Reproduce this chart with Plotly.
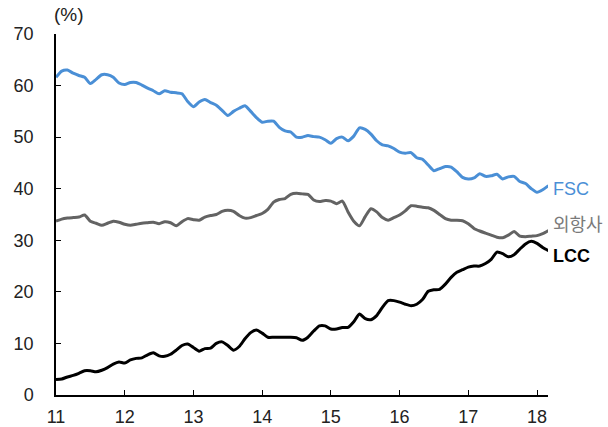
import plotly.graph_objects as go

# monthly data, Jan 2011 .. Mar 2018
fsc = [61.6, 62.8, 63.0, 62.4, 61.95, 61.6, 60.4, 61.2, 62.1, 62.1, 61.6, 60.5,
       60.2, 60.6, 60.6, 60.1, 59.5, 59.0, 58.4, 59.0, 58.7, 58.6, 58.4, 56.9,
       55.9, 56.8, 57.3, 56.7, 56.2, 55.2, 54.2, 55.0, 55.6, 56.1, 55.0, 53.8,
       52.9, 53.1, 53.1, 51.9, 51.2, 51.0, 50.0, 50.0, 50.3, 50.1, 50.0, 49.5,
       48.8, 49.7, 50.0, 49.3, 50.2, 51.8, 51.5, 50.6, 49.3, 48.5, 48.3, 47.8,
       47.1, 46.9, 47.0, 46.0, 45.7, 44.6, 43.5, 43.9, 44.3, 44.2, 43.3, 42.2,
       41.9, 42.1, 42.9, 42.4, 42.5, 42.8, 41.9, 42.3, 42.4, 41.4, 41.0, 40.0,
       39.3, 39.8, 40.6]
foreign = [33.7, 34.1, 34.3, 34.4, 34.5, 34.9, 33.7, 33.3, 32.9, 33.3, 33.7, 33.5,
           33.1, 32.9, 33.1, 33.3, 33.4, 33.5, 33.2, 33.6, 33.4, 32.8, 33.6, 34.2,
           34.0, 33.9, 34.5, 34.8, 35.0, 35.6, 35.8, 35.6, 34.8, 34.3, 34.4, 34.8,
           35.2, 36.0, 37.4, 37.9, 38.1, 38.9, 39.1, 39.0, 38.9, 37.8, 37.5, 37.7,
           37.6, 37.1, 37.6, 35.5, 33.7, 32.8, 34.6, 36.1, 35.5, 34.4, 33.9, 34.4,
           34.9, 35.7, 36.7, 36.6, 36.4, 36.3, 35.8, 35.0, 34.2, 33.9, 33.9, 33.8,
           33.2, 32.3, 31.8, 31.4, 31.0, 30.6, 30.5, 31.0, 31.7, 30.8, 30.7, 30.8,
           30.9, 31.3, 31.9]
lcc = [3.0, 3.1, 3.5, 3.8, 4.2, 4.7, 4.7, 4.5, 4.8, 5.3, 6.0, 6.4,
       6.2, 6.8, 7.1, 7.2, 7.8, 8.2, 7.6, 7.5, 7.9, 8.7, 9.6, 9.9,
       9.2, 8.5, 9.0, 9.1, 10.0, 10.3, 9.6, 8.7, 9.4, 10.9, 12.1, 12.6,
       12.0, 11.2, 11.2, 11.2, 11.2, 11.2, 11.1, 10.6, 11.2, 12.4, 13.4, 13.4,
       12.8, 12.8, 13.1, 13.1, 14.2, 15.7, 14.8, 14.6, 15.4, 17.0, 18.3, 18.3,
       18.0, 17.6, 17.3, 17.6, 18.5, 20.1, 20.4, 20.5, 21.5, 22.8, 23.8, 24.3,
       24.8, 25.0, 25.0, 25.5, 26.3, 27.7, 27.4, 26.8, 27.2, 28.3, 29.3, 29.8,
       29.4, 28.6, 28.0]
x = [11 + i / 12 for i in range(len(fsc))]

year_ticks = [11, 12, 13, 14, 15, 16, 17, 18]
y_ticks = [0, 10, 20, 30, 40, 50, 60, 70]
names = ["FSC", "외항사", "<b>LCC</b>"]
label_y = [39.85, 32.9, 27.05]

C_FSC = "#4a8fd6"
C_FOR = "#636363"
C_LCC = "#000000"
FONT = "Liberation Sans, Noto Sans CJK KR"

fig = go.Figure()
for ys, col in [(fsc, C_FSC), (foreign, C_FOR), (lcc, C_LCC)]:
    fig.add_trace(go.Scatter(x=x, y=ys, mode="lines",
                             line=dict(color=col, width=3, shape="spline", smoothing=0.6),
                             showlegend=False, hoverinfo="skip"))

label_cols = [C_FSC, "#7a7a7a", C_LCC]
for name, yy, col in zip(names, label_y, label_cols):
    fig.add_annotation(x=1.006, xref="paper", y=yy, yref="y", text=name,
                       showarrow=False, xanchor="left", yanchor="middle",
                       font=dict(family=FONT, size=18, color=col))

fig.add_annotation(x=(69 - 56) / 492.5, xref="paper", y=1 + (34 - 14) / 361, yref="paper",
                   text="(%)", showarrow=False, xanchor="center", yanchor="middle",
                   font=dict(family=FONT, size=19, color="#222222"))

fig.update_layout(
    width=608, height=427,
    margin=dict(l=56, r=59.5, t=34, b=32),
    paper_bgcolor="white", plot_bgcolor="white",
    font=dict(family=FONT, size=18, color="#222222"),
    xaxis=dict(range=[11, 18.16], tickvals=year_ticks, ticktext=[str(v) for v in year_ticks],
               showgrid=False, zeroline=False, showline=True, linecolor="black", linewidth=1.5,
               ticks="inside", ticklen=5, tickcolor="black", tickwidth=1,
               ticklabelstandoff=5, automargin=False),
    yaxis=dict(range=[0, 70], tickvals=y_ticks,
               showgrid=False, zeroline=False, showline=True, linecolor="black", linewidth=1.5,
               ticks="inside", ticklen=5, tickcolor="black", tickwidth=1,
               ticklabelstandoff=17, automargin=False),
)

fig.write_html("out.html")
